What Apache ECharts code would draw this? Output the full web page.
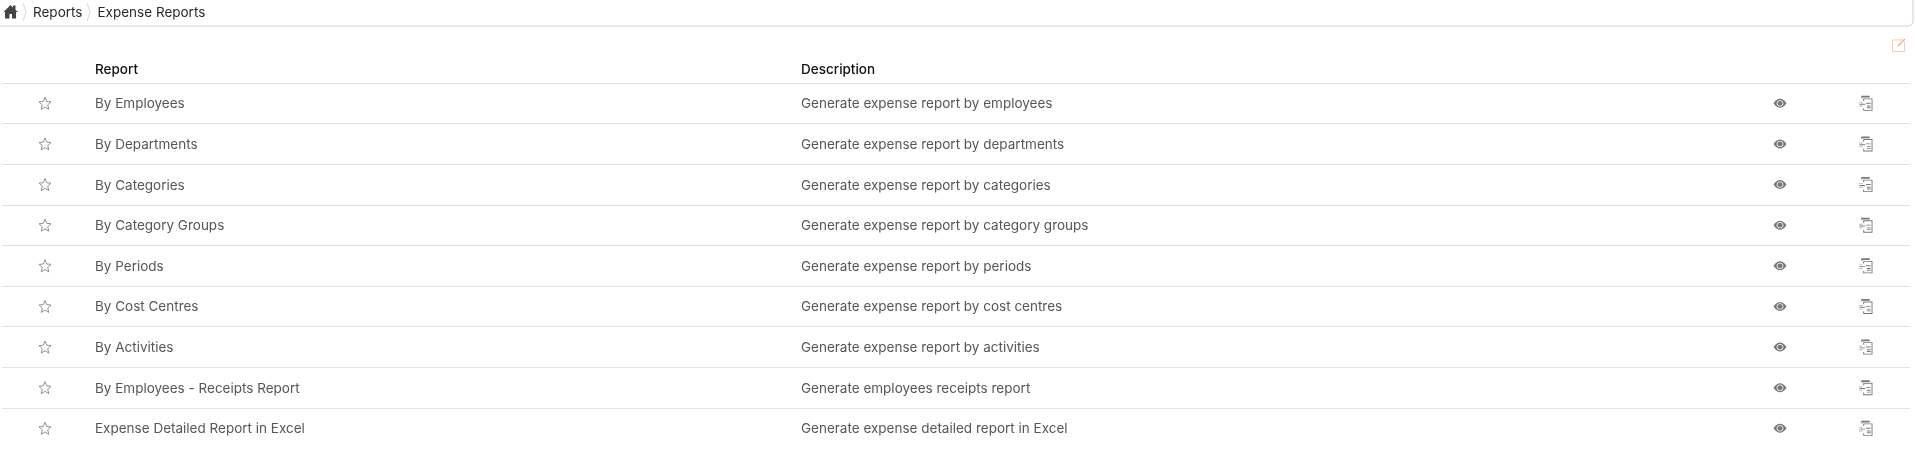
<!DOCTYPE html>
<html><head><meta charset="utf-8">
<style>html,body{margin:0;padding:0;background:#fff}#c{width:1915px;height:450px}</style>
<script src="https://cdn.jsdelivr.net/npm/echarts@6/dist/echarts.min.js"></script>
</head><body><div id="c"></div>
<script>
const reports = ['By Employees','By Departments','By Categories','By Category Groups','By Periods','By Cost Centres','By Activities','By Employees - Receipts Report','Expense Detailed Report in Excel'];
const descriptions = ['Generate expense report by employees','Generate expense report by departments','Generate expense report by categories','Generate expense report by category groups','Generate expense report by periods','Generate expense report by cost centres','Generate expense report by activities','Generate employees receipts report','Generate expense detailed report in Excel'];
const headers = ['Report','Description'];
const crumbs = ['Reports','Expense Reports'];
const FONT = 'Inter';
const X = {star:43, report:93, desc:799, eye:1778, doc:1864};
const starPath = 'path://M12 1l3.2 7.4 8 .7-6.1 5.3 1.9 7.8L12 18.1 5 22.2l1.9-7.8L.8 9.1l8-.7z';
const eyePath = 'path://M0 6C3 1.5 5.5 0 8 0s5 1.5 8 6c-3 4.5-5.5 6-8 6s-5-1.5-8-6zM8 1.8C5.6 1.8 3.8 3.7 3.8 6S5.6 10.2 8 10.2 12.2 8.3 12.2 6 10.4 1.8 8 1.8zM8 2.8C9.8 2.8 11.2 4.2 11.2 6S9.8 9.2 8 9.2 4.8 7.8 4.8 6 6.2 2.8 8 2.8z';
const docPath = 'path://M2 0h9v2H3v1H2zM4 3h10v14H4v-3h1v2h8V4H5v2H4zM0 7h1v1H0zM2 7h1v1H2zM0 9h6v1H0zM0 11h1v1H0zM2 11h1v1H2zM7 8h5v1H7zM8 11h4v1H8zM8 13h4v1H8z';
function col(x){return reports.map((r,i)=>[x,r]);}
function textSeries(x,arr){return {type:'scatter',silent:true,symbolSize:0,data:arr.map((t,i)=>({value:[x,reports[i]],label:{formatter:t}})),
  label:{show:true,position:'right',distance:0,offset:[0,1],color:'#2b2b2b',fontFamily:FONT,fontSize:13.5}};}
const chart = echarts.init(document.getElementById('c'),null,{renderer:'canvas'});
chart.setOption({
  animation:false,
  grid:{left:2,top:83,width:1908,height:365.6,containLabel:false},
  xAxis:{type:'value',min:0,max:1908,show:false},
  yAxis:{type:'category',inverse:true,data:reports,axisLine:{show:false},axisTick:{show:false},axisLabel:{show:false},
    splitLine:{show:true,lineStyle:{width:1,color:['#e2e2e2','#e2e2e2','#e2e2e2','#e2e2e2','#e2e2e2','#e2e2e2','#e2e2e2','#e2e2e2','#e2e2e2','#ffffff']}}},
  series:[
    {type:'scatter',silent:true,symbol:starPath,symbolSize:[12,12],data:col(X.star),itemStyle:{color:'#fff',borderColor:'#777',borderWidth:1}},
    textSeries(X.report,reports),
    textSeries(X.desc,descriptions),
    {type:'scatter',silent:true,symbol:eyePath,symbolSize:[13,9],data:col(X.eye),itemStyle:{color:'#555'}},
    {type:'scatter',silent:true,symbol:docPath,symbolSize:[13,15],data:col(X.doc),itemStyle:{color:'#555'}}
  ],
  graphic:[
    {type:'rect',shape:{x:-6,y:-8,width:1919,height:34,r:5},style:{fill:'#fff',stroke:'#cfcfcf',lineWidth:1}},
    {type:'polygon',shape:{points:[[3.5,12],[10.5,5],[13,7.5],[13,5.5],[15.5,5.5],[15.5,10],[18,12],[16,12],[16,18.5],[12,18.5],[12,14],[9.5,14],[9.5,18.5],[5,18.5],[5,12]]},style:{fill:'#444'}},
    {type:'polyline',shape:{points:[[23,3],[26,12],[23,21]]},style:{fill:null,stroke:'#d8d8d8',lineWidth:1}},
    {type:'polyline',shape:{points:[[87,3],[90,12],[87,21]]},style:{fill:null,stroke:'#d8d8d8',lineWidth:1}},
    {type:'text',x:33,y:12.5,style:{text:crumbs[0],fill:'#2b2b2b',font:'13.5px '+FONT,textVerticalAlign:'middle'}},
    {type:'text',x:97.5,y:12.5,style:{text:crumbs[1],fill:'#2b2b2b',font:'13.5px '+FONT,textVerticalAlign:'middle'}},
    {type:'text',x:95,y:70,style:{text:headers[0],fill:'#111',font:'500 13.5px '+FONT,textVerticalAlign:'middle'}},
    {type:'text',x:801,y:70,style:{text:headers[1],fill:'#111',font:'500 13.5px '+FONT,textVerticalAlign:'middle'}},
    {type:'polyline',shape:{points:[[1904,40],[1892.5,40],[1892.5,51.5],[1904.5,51.5],[1904.5,42]]},style:{fill:null,stroke:'#f9c9b6',lineWidth:1}},
    {type:'line',shape:{x1:1898,y1:46,x2:1905,y2:39},style:{stroke:'#f4a98c',lineWidth:1.2}}
  ]
});
</script></body></html>
